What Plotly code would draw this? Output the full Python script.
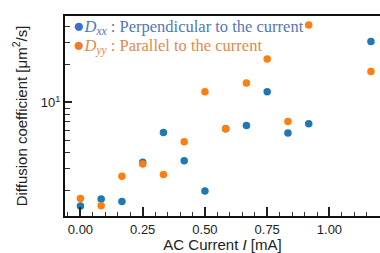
import plotly.graph_objects as go

current_mA = [0.0, 0.0833, 0.1667, 0.25, 0.3333, 0.4167, 0.5, 0.5833, 0.6667, 0.75, 0.8333, 0.9167, 1.1667]
d_xx = [1.50, 1.71, 1.63, 3.34, 5.78, 3.44, 1.98, 6.18, 6.57, 12.2, 5.71, 6.78, 30.5]
d_yy = [1.72, 1.51, 2.59, 3.24, 2.67, 4.88, 12.2, 6.18, 14.3, 22.2, 7.06, 41.4, 17.6]

x_ticks = [0.0, 0.25, 0.5, 0.75, 1.0]
x_ticklabels = ["0.00", "0.25", "0.50", "0.75", "1.00"]
y_ticks = [10]
y_ticklabels = ["10<sup>1</sup>"]
y_minor = [2, 3, 4, 5, 6, 7, 8, 9, 20, 30, 40]

blue = "#1f77b4"
orange = "#ff7f0e"

fig = go.Figure()
fig.add_trace(go.Scatter(x=current_mA, y=d_xx, mode="markers",
                         marker=dict(color=blue, size=7.5), showlegend=False))
fig.add_trace(go.Scatter(x=current_mA, y=d_yy, mode="markers",
                         marker=dict(color=orange, size=7.5), showlegend=False))

sans = "Liberation Sans, Arial, sans-serif"
serif = "Liberation Serif, Times New Roman, serif"

fig.update_layout(
    width=380, height=253,
    margin=dict(l=64.5, r=0, t=16, b=36.5, autoexpand=False),
    paper_bgcolor="white", plot_bgcolor="white",
    font=dict(family=sans, color="#222"),
    xaxis=dict(
        range=[-0.062, 1.203],
        tickvals=x_ticks, ticktext=x_ticklabels,
        ticks="inside", ticklen=9, tickwidth=1.5, tickcolor="#222",
        minor=dict(dtick=0.05, tick0=0, ticks="inside", ticklen=4, tickwidth=1, tickcolor="#333"),
        showline=True, linecolor="#111", linewidth=2, mirror=True,
        showgrid=False, zeroline=False,
        tickfont=dict(size=13, color="#222"),
        title=dict(text="AC Current <i>I</i> [mA]", font=dict(size=15, color="#222"), standoff=2),
        automargin=False,
    ),
    yaxis=dict(
        type="log", range=[0.097, 1.688],
        tickvals=y_ticks, ticktext=y_ticklabels,
        ticks="inside", ticklen=7, tickwidth=1.5, tickcolor="#222",
        minor=dict(tickvals=y_minor, ticks="inside", ticklen=5, tickwidth=1, tickcolor="#333"),
        showline=True, linecolor="#111", linewidth=2,
        showgrid=False, zeroline=False,
        tickfont=dict(size=13, color="#222"),
        title=dict(text="Diffusion coefficient [μm<sup>2</sup>/s]", font=dict(size=15, color="#222"), standoff=10),
        automargin=False,
    ),
)

fig.add_annotation(
    xref="paper", yref="paper", x=0.020, y=0.952, xanchor="left", yanchor="middle",
    showarrow=False,
    text="<span style='color:#3a6fd0;font-size:19px'>●</span><i>D</i><sub><i>xx</i></sub> : Perpendicular to the current",
    font=dict(family=serif, size=16.5, color="#5476b8"),
)
fig.add_annotation(
    xref="paper", yref="paper", x=0.020, y=0.855, xanchor="left", yanchor="middle",
    showarrow=False,
    text="<span style='color:#ee7a30;font-size:19px'>●</span><i>D</i><sub><i>yy</i></sub> : Parallel to the current",
    font=dict(family=serif, size=16.5, color="#e08a4c"),
)

fig.write_html(
    "out.html",
    config={"displayModeBar": False},
    post_script="document.body.style.margin='0';document.body.style.overflow='hidden';",
)
